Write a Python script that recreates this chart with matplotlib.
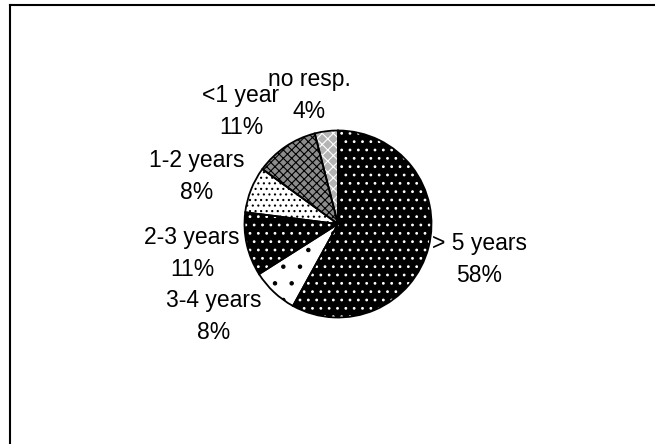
import matplotlib
matplotlib.use("Agg")
import matplotlib.pyplot as plt
from matplotlib.lines import Line2D

plt.rcParams['font.family'] = ['Liberation Sans', 'DejaVu Sans']
plt.rcParams['hatch.linewidth'] = 0.8

categories = ['> 5 years', '3-4 years', '2-3 years', '1-2 years', '<1 year', 'no resp.']
values = [58, 8, 11, 8, 11, 4]
pct_labels = ['58%', '8%', '11%', '8%', '11%', '4%']

face = ['black', 'white', 'black', 'white', '#8c8c8c', '#b4b4b4']
hcol = ['white', 'black', 'white', 'black', 'black', 'white']
hatches = ['..', '.', '..', '...', 'xxxx', 'xxx']

W, H = 655, 444
fig = plt.figure(figsize=(W/100, H/100), dpi=100)
cx, cy, r = 338, 224, 93.5
ax = fig.add_axes([(cx-r)/W, (H-cy-r)/H, 2*r/W, 2*r/H])

wedges, _ = ax.pie(values, startangle=90, counterclock=False, radius=1,
                   colors=face, wedgeprops=dict(linewidth=0))
for w, hc, h in zip(wedges, hcol, hatches):
    w.set_hatch(h)
    w.set_edgecolor(hc)
    w.set_linewidth(0)
outline, _ = ax.pie(values, startangle=90, counterclock=False, radius=1,
                    wedgeprops=dict(fill=False, edgecolor='black', linewidth=1.3))
ax.set_xlim(-1, 1)
ax.set_ylim(-1, 1)
ax.set_aspect('equal')
ax.axis('off')

# (center x of label line, baseline y of first line) in pixels
label_px = [(479, 250), (214, 307), (192, 244), (197, 167), (241, 102), (309, 86)]
line_gap = 32
for cat, pct, (px, py) in zip(categories, pct_labels, label_px):
    ax.text((px-cx)/r, (cy-py)/r, cat, ha='center', va='baseline',
            fontsize=16.5, clip_on=False)
    ax.text((px-cx)/r, (cy-py-line_gap)/r, pct, ha='center', va='baseline',
            fontsize=16.5, clip_on=False)

fig.add_artist(Line2D([9.5/W, 1.0], [1-5/H, 1-5/H], transform=fig.transFigure,
                      color='black', linewidth=1.5))
fig.add_artist(Line2D([9.5/W, 9.5/W], [0.0, 1-5/H], transform=fig.transFigure,
                      color='black', linewidth=1.5))
fig.savefig('out.png', dpi=100)
